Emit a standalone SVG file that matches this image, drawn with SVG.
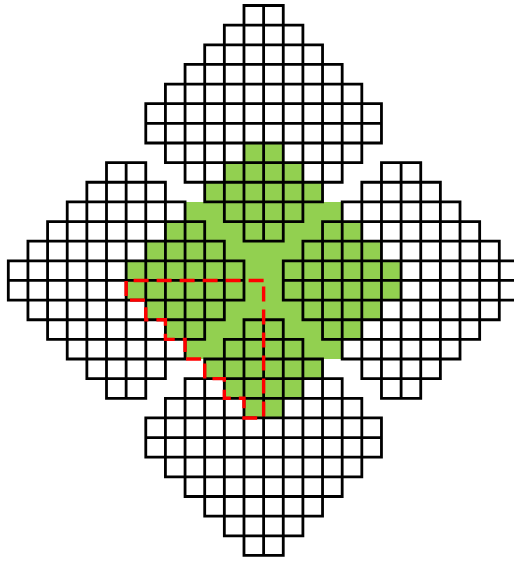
<svg xmlns="http://www.w3.org/2000/svg" xmlns:xlink="http://www.w3.org/1999/xlink" width="514" height="561" viewBox="0 0 514 561">
  <style>
    .cellfill { fill: #ffffff; stroke: none; }
    .grid { fill: none; stroke: #000000; stroke-width: 2.8; stroke-linecap: square; stroke-linejoin: miter; }
    .core { fill: #92d050; stroke: none; }
    .quad { fill: none; stroke: #ff0000; stroke-width: 3.4; stroke-dasharray: 15 8; stroke-linejoin: miter; }
  </style>
  <defs>
    <path id="dfill" d="M98.2 0 H137.48 V19.64 H157.12 V39.28 H176.76 V58.92 H196.4 V78.56 H216.04 V98.2 H235.68 V137.48 H216.04 V157.12 H196.4 V176.76 H176.76 V196.4 H157.12 V216.04 H137.48 V235.68 H98.2 V216.04 H78.56 V196.4 H58.92 V176.76 H39.28 V157.12 H19.64 V137.48 H0 V98.2 H19.64 V78.56 H39.28 V58.92 H58.92 V39.28 H78.56 V19.64 H98.2 Z"/>
    <path id="dgrid" d="M98.2 0 H137.48 M78.56 19.64 H157.12 M58.92 39.28 H176.76 M39.28 58.92 H196.4 M19.64 78.56 H216.04 M0 98.2 H235.68 M0 117.84 H235.68 M0 137.48 H235.68 M19.64 157.12 H216.04 M39.28 176.76 H196.4 M58.92 196.4 H176.76 M78.56 216.04 H157.12 M98.2 235.68 H137.48 M0 98.2 V137.48 M19.64 78.56 V157.12 M39.28 58.92 V176.76 M58.92 39.28 V196.4 M78.56 19.64 V216.04 M98.2 0 V235.68 M117.84 0 V235.68 M137.48 0 V235.68 M157.12 19.64 V216.04 M176.76 39.28 V196.4 M196.4 58.92 V176.76 M216.04 78.56 V157.12 M235.68 98.2 V137.48"/>
    <path id="gshape" d="M243.98 142.98 H283.26 V162.62 H302.9 V182.26 H322.54 V201.9 H342.18 V221.54 H361.82 V241.18 H381.46 V260.82 H401.1 V300.1 H381.46 V319.74 H361.82 V339.38 H342.18 V359.02 H322.54 V378.66 H302.9 V398.3 H283.26 V417.94 H243.98 V398.3 H224.34 V378.66 H204.7 V359.02 H185.06 V339.38 H165.42 V319.74 H145.78 V300.1 H126.14 V260.82 H145.78 V241.18 H165.42 V221.54 H185.06 V201.9 H204.7 V182.26 H224.34 V162.62 H243.98 Z"/>
    <mask id="outside-core" maskUnits="userSpaceOnUse" x="0" y="0" width="514" height="561">
      <rect x="0" y="0" width="514" height="561" fill="#ffffff"/>
      <use xlink:href="#gshape" href="#gshape" fill="#000000"/>
    </mask>
  </defs>

  <g id="core-region">
    <use xlink:href="#gshape" href="#gshape" class="core"/>
  </g>

  <g id="cell-fills" mask="url(#outside-core)">
    <use xlink:href="#dfill" href="#dfill" class="cellfill" transform="translate(145.78,5.5)"/>
    <use xlink:href="#dfill" href="#dfill" class="cellfill" transform="translate(8.3,162.62)"/>
    <use xlink:href="#dfill" href="#dfill" class="cellfill" transform="translate(283.26,162.62)"/>
    <use xlink:href="#dfill" href="#dfill" class="cellfill" transform="translate(145.78,319.74)"/>
  </g>

  <g id="diamond-top" transform="translate(145.78,5.5)">
    <use xlink:href="#dgrid" href="#dgrid" class="grid"/>
  </g>
  <g id="diamond-left" transform="translate(8.3,162.62)">
    <use xlink:href="#dgrid" href="#dgrid" class="grid"/>
  </g>
  <g id="diamond-right" transform="translate(283.26,162.62)">
    <use xlink:href="#dgrid" href="#dgrid" class="grid"/>
  </g>
  <g id="diamond-bottom" transform="translate(145.78,319.74)">
    <use xlink:href="#dgrid" href="#dgrid" class="grid"/>
  </g>

  <g id="connectors">
    <path class="quad" d="M263.62 280.46 H126.14 V300.1 H145.78 V319.74 H165.42 V339.38 H185.06 V359.02 H204.7 V378.66 H224.34 V398.3 H243.98 V417.94 H263.62 Z"/>
  </g>
</svg>
